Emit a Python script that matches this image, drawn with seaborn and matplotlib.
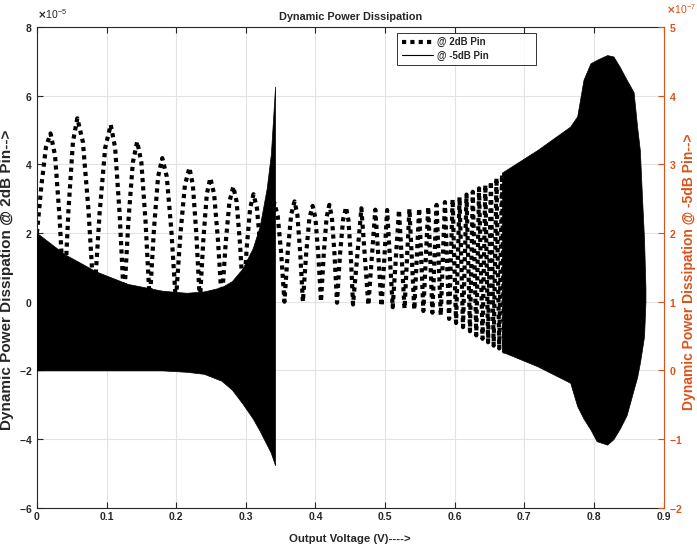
import matplotlib
matplotlib.use("Agg")
import matplotlib.pyplot as plt
from matplotlib.lines import Line2D
import numpy as np
import pandas as pd
import seaborn as sns

sns.set_theme(style="white", context="paper")
plt.rcParams["font.family"] = ["Liberation Sans", "DejaVu Sans"]
plt.rcParams["font.weight"] = "bold"
plt.rcParams["axes.unicode_minus"] = False

ORANGE = "#D95319"

# @ 2dB Pin (left axis, x1e-5): vertices of the oscillation
pin2_v = [0.0, 0.0065, 0.013, 0.0195, 0.026, 0.0325, 0.039,
          0.0453, 0.0517, 0.058, 0.066, 0.074, 0.082,
          0.09, 0.098, 0.106, 0.1123, 0.1187, 0.125,
          0.1313, 0.1377, 0.144, 0.15, 0.156, 0.162,
          0.168, 0.174, 0.18, 0.1865, 0.193, 0.1995,
          0.206, 0.2125, 0.219, 0.224, 0.229, 0.234,
          0.239, 0.244, 0.249, 0.2545, 0.26, 0.2655,
          0.271, 0.2765, 0.282, 0.2868, 0.2917, 0.2965,
          0.3013, 0.3062, 0.311, 0.316, 0.321, 0.326,
          0.331, 0.336, 0.341, 0.3458, 0.3507, 0.3555,
          0.3603, 0.3652, 0.37, 0.374, 0.378, 0.382,
          0.3867, 0.3913, 0.396, 0.4, 0.404, 0.408,
          0.412, 0.416, 0.42, 0.4237, 0.4273, 0.431,
          0.4353, 0.4397, 0.444, 0.4473, 0.4507, 0.454,
          0.466, 0.476, 0.486, 0.495, 0.503, 0.511, 0.520, 0.528, 0.535, 0.542,
          0.549, 0.555, 0.562, 0.568, 0.574, 0.580, 0.586, 0.592, 0.597, 0.602,
          0.607, 0.612, 0.617, 0.622, 0.626, 0.631, 0.635, 0.640, 0.644, 0.648,
          0.652, 0.656, 0.660, 0.664, 0.668, 0.671, 0.674]
pin2_p = [2.0, 3.4, 4.5, 4.9, 4.26, 2.45, 0.0,
          2.67, 4.65, 5.34, 4.65, 2.67, 0.0,
          2.58, 4.48, 5.15, 4.48, 2.58, 0.0,
          2.33, 4.05, 4.66, 4.05, 2.33, 0.0,
          2.09, 3.64, 4.18, 3.64, 2.09, 0.0,
          1.95, 3.39, 3.9, 3.39, 1.95, 0.0,
          1.8, 3.13, 3.6, 3.13, 1.8, 0.0,
          1.68, 2.91, 3.35, 2.91, 1.68, 0.0,
          1.57, 2.72, 3.13, 2.72, 1.57, 0.0,
          1.44, 2.5, 2.88, 2.5, 1.44, 0.0,
          1.46, 2.54, 2.92, 2.54, 1.46, 0.0,
          1.4, 2.43, 2.79, 2.43, 1.4, 0.0,
          1.41, 2.45, 2.82, 2.45, 1.41, -0.03,
          1.38, 2.39, 2.75, 2.39, 1.38, -0.08,
          2.72, -0.1, 2.68, -0.13, 2.67, -0.16, 2.67, -0.2, 2.7, -0.23,
          2.72, -0.27, 2.76, -0.32, 2.82, -0.4, 2.9, -0.5, 2.98, -0.62,
          3.04, -0.74, 3.12, -0.86, 3.2, -0.98, 3.3, -1.08, 3.4, -1.18,
          3.5, -1.28, 3.6, -1.36, 3.7, -1.45, 3.8]

# @ -5dB Pin (right axis, x1e-7): envelope of the dense oscillation
pin5_v_a = [0, 0.04, 0.085, 0.13, 0.18, 0.215, 0.24, 0.265, 0.28, 0.295,
            0.31, 0.32, 0.33, 0.336, 0.342]
pin5_hi_a = [2.0, 1.69, 1.44, 1.26, 1.16, 1.13, 1.15, 1.21, 1.3, 1.48,
             1.78, 2.1, 2.65, 3.15, 4.13]
pin5_lo_a = [0, 0, 0, 0, 0, -0.02, -0.05, -0.15, -0.28, -0.48,
             -0.7, -0.88, -1.08, -1.2, -1.38]

pin5_v_b = [0.668, 0.671, 0.719, 0.766, 0.776, 0.785, 0.795, 0.804, 0.819, 0.828,
            0.837, 0.847, 0.857, 0.862, 0.866, 0.869, 0.872, 0.874]
pin5_hi_b = [2.88, 2.9, 3.21, 3.55, 3.7, 4.23, 4.47, 4.52, 4.59, 4.57,
             4.42, 4.23, 4.05, 3.55, 3.2, 2.53, 1.9, 1.2]
pin5_lo_b = [0.28, 0.26, 0.06, -0.18, -0.52, -0.7, -0.86, -1.03, -1.08, -1.0,
             -0.85, -0.65, -0.28, -0.1, 0.11, 0.3, 0.5, 1.0]

x_ticks = [0, 0.1, 0.2, 0.3, 0.4, 0.5, 0.6, 0.7, 0.8, 0.9]
x_labels = ["0", "0.1", "0.2", "0.3", "0.4", "0.5", "0.6", "0.7", "0.8", "0.9"]
left_ticks = [-6, -4, -2, 0, 2, 4, 6, 8]
right_ticks = [-2, -1, 0, 1, 2, 3, 4, 5]

fig, ax = plt.subplots(figsize=(6.97, 5.49), dpi=100)
fig.subplots_adjust(left=0.053, right=0.952, bottom=0.075, top=0.951)

df = pd.DataFrame({"v": pin2_v, "p": np.array(pin2_p) * 1e-5})
sns.lineplot(data=df, x="v", y="p", sort=False, estimator=None, color="black",
             lw=3, ax=ax, legend=False)
dot_line = ax.lines[0]
dot_line.set_linestyle((0, (1, 1)))
dot_line.set_dash_capstyle("butt")

ax2 = ax.twinx()
for xs, hi, lo in [(pin5_v_a, pin5_hi_a, pin5_lo_a), (pin5_v_b, pin5_hi_b, pin5_lo_b)]:
    ax2.fill_between(np.array(xs), np.array(lo) * 1e-7, np.array(hi) * 1e-7,
                     color="black", lw=0.5)

ax.set_xlim(0, 0.9)
ax.set_ylim(-6e-5, 8e-5)
ax2.set_ylim(-2e-7, 5e-7)
ax.set_xticks(x_ticks)
ax.set_xticklabels(x_labels)
ax.set_yticks(np.array(left_ticks) * 1e-5)
ax2.set_yticks(np.array(right_ticks) * 1e-7)
for a in (ax, ax2):
    a.ticklabel_format(axis="y", style="sci", scilimits=(0, 0), useMathText=True)

ax.grid(True, color="#E3E3E3", lw=0.8)
ax.tick_params(axis="both", direction="in", length=4, width=0.8, labelsize=7.5,
               top=True, right=False, left=True, bottom=True, pad=3)
ax2.tick_params(axis="y", direction="in", length=4, width=0.8, labelsize=7.5,
                colors=ORANGE, pad=4)
off_l = ax.yaxis.get_offset_text()
off_l.set_fontsize(7.5)
off_l.set_fontweight("normal")
ax.yaxis.OFFSETTEXTPAD = 6
off_r = ax2.yaxis.get_offset_text()
off_r.set_fontsize(7.5)
off_r.set_fontweight("normal")
off_r.set_color(ORANGE)
off_r.set_horizontalalignment("left")
off_r.set_x(1.004)
ax2.yaxis.OFFSETTEXTPAD = 9

for s in ("left", "bottom", "top"):
    ax.spines[s].set_color("#262626")
    ax.spines[s].set_linewidth(0.8)
ax.spines["right"].set_visible(False)
for s in ("left", "bottom", "top"):
    ax2.spines[s].set_visible(False)
ax2.spines["right"].set_color(ORANGE)
ax2.spines["right"].set_linewidth(0.8)

ax.set_title("Dynamic Power Dissipation", fontsize=7.8, fontweight="bold", pad=5)
ax.set_xlabel("Output Voltage (V)---->", fontsize=8.2, fontweight="bold")
ax.xaxis.set_label_coords(0.5, -0.055)
ax.set_ylabel("Dynamic Power Dissipation @ 2dB Pin-->", fontsize=11,
              fontweight="bold")
ax.yaxis.set_label_coords(-0.036, 0.475)
ax2.set_ylabel("Dynamic Power Dissipation @ -5dB Pin-->", fontsize=10,
               fontweight="bold", color=ORANGE)
ax2.yaxis.set_label_coords(1.03, 0.49)

handles = [Line2D([], [], color="black", lw=3, ls=(0, (1, 1)), dash_capstyle="butt"),
           Line2D([], [], color="black", lw=0.8)]
leg = ax2.legend(handles, ["@ 2dB Pin", "@ -5dB Pin"], loc="upper left",
                 bbox_to_anchor=(0.575, 0.91, 0.222, 0.078), mode="expand",
                 frameon=True, fancybox=False, edgecolor="black", fontsize=7,
                 handlelength=3.2, handletextpad=0.4, borderpad=0.45,
                 labelspacing=0.35, borderaxespad=0)
leg.get_frame().set_linewidth(0.7)
for t in leg.get_texts():
    t.set_fontweight("bold")

fig.savefig("out.png", dpi=100)
